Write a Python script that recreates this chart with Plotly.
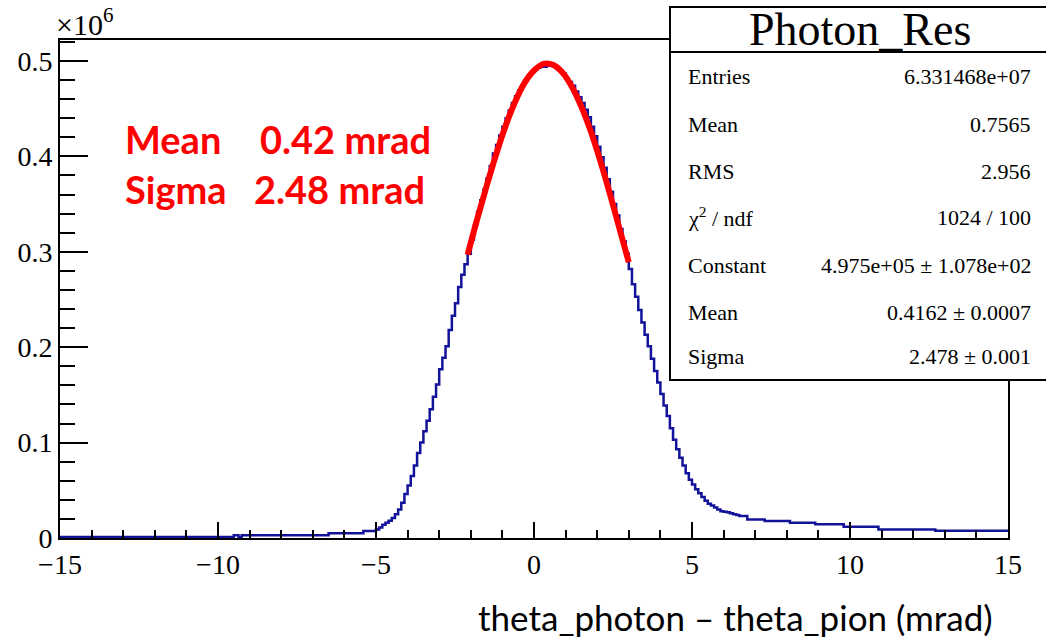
import plotly.graph_objects as go

# ---------------- data (values in units of 1e6 entries) ----------------
left_tail_edges = [-15.0, -9.5, -9.35, -9.25, -6.5, -5.4, -5.0]
left_tail_values = [0.001, 0.003, 0.001, 0.003, 0.005, 0.0073]

core_start = -5.0
core_width = 0.1
core_values = [
    0.009, 0.011, 0.014, 0.016, 0.018, 0.021, 0.025, 0.030, 0.037, 0.046,
    0.055, 0.065, 0.076, 0.089, 0.100, 0.112, 0.123, 0.135, 0.148, 0.161,
    0.177, 0.189, 0.201, 0.218, 0.233, 0.246, 0.263, 0.276, 0.287, 0.298,
    0.313, 0.328, 0.342, 0.354, 0.365, 0.377, 0.390, 0.403, 0.412, 0.422,
    0.431, 0.440, 0.448, 0.456, 0.463, 0.469, 0.474, 0.479, 0.484, 0.488,
    0.491, 0.493, 0.494, 0.494, 0.495, 0.495, 0.494, 0.492, 0.490, 0.487,
    0.482, 0.478, 0.474, 0.468, 0.462, 0.456, 0.449, 0.441, 0.431, 0.421,
    0.410, 0.399, 0.388, 0.376, 0.363, 0.350, 0.338, 0.324, 0.311, 0.298,
    0.282, 0.266, 0.253, 0.239, 0.226, 0.213, 0.201, 0.188, 0.175, 0.163,
    0.151, 0.139, 0.128, 0.115, 0.103, 0.093, 0.084, 0.076, 0.068, 0.061,
    0.056, 0.051, 0.047, 0.043, 0.039, 0.036, 0.034, 0.032, 0.030, 0.028,
    0.0275, 0.027, 0.026, 0.025, 0.024,
]

right_tail_edges = [6.5, 6.75, 7.3, 8.1, 8.9, 9.8, 10.9, 12.7, 15.0]
right_tail_values = [0.023, 0.0195, 0.0178, 0.016, 0.0145, 0.0118, 0.0088, 0.0075]

fit_x = [-2.1, -1.8, -1.5, -1.2, -0.9, -0.6, -0.3, 0.0, 0.3, 0.6,
         0.9, 1.2, 1.5, 1.8, 2.1, 2.4, 2.7, 3.0]
fit_y = [0.297, 0.334, 0.369, 0.402, 0.432, 0.457, 0.477, 0.490, 0.497, 0.496,
         0.488, 0.473, 0.452, 0.426, 0.395, 0.361, 0.325, 0.289]

x_ticks = [-15, -10, -5, 0, 5, 10, 15]
x_ticktext = ["\u221215", "\u221210", "\u22125", "0", "5", "10", "15"]
y_ticks = [0, 0.1, 0.2, 0.3, 0.4, 0.5]
y_ticktext = ["0", "0.1", "0.2", "0.3", "0.4", "0.5"]

stats_title = "Photon_Res"
stats_labels = ["Entries", "Mean", "RMS", "χ<sup>2</sup> / ndf", "Constant", "Mean", "Sigma"]
stats_values = ["6.331468e+07", "0.7565", "2.956", "1024 / 100",
                "4.975e+05 ± 1.078e+02", "0.4162 ± 0.0007", "2.478 ± 0.001"]

fit_labels = ["Mean", "Sigma"]
fit_texts = ["0.42 mrad", "2.48 mrad"]

x_title = "theta_photon – theta_pion (mrad)"

# ---------------- build histogram steps ----------------
edges = list(left_tail_edges[:-1])
values = list(left_tail_values)
for i, v in enumerate(core_values):
    edges.append(round(core_start + i * core_width, 4))
    values.append(v)
edges += right_tail_edges[:-1]
values += right_tail_values
step_x = edges + [right_tail_edges[-1]]
step_y = values + [values[-1]]

# ---------------- layout geometry helpers ----------------
L, R, T, B = 60, 38, 40, 99
W, H = 1046, 637
PW, PH = W - L - R, H - T - B


def px(xp):
    return (xp - L) / PW


def py(yp):
    return (H - B - yp) / PH


fig = go.Figure()
fig.add_trace(go.Scatter(x=step_x, y=step_y, mode="lines",
                         line=dict(color="#12129a", width=2.5, shape="hv"),
                         hoverinfo="skip"))
fig.add_trace(go.Scatter(x=fit_x, y=fit_y, mode="lines",
                         line=dict(color="#ff0000", width=6, shape="spline"),
                         hoverinfo="skip"))

serif = "Liberation Serif, Times New Roman, serif"
tick_font = dict(family=serif, size=28, color="black")
fig.update_layout(
    width=W, height=H,
    margin=dict(l=L, r=R, t=T, b=B),
    plot_bgcolor="white", paper_bgcolor="white",
    font=dict(family=serif, size=24, color="black"),
    showlegend=False,
    xaxis=dict(range=[-15, 15], tickmode="array", tickvals=x_ticks, ticktext=x_ticktext,
               ticks="inside", ticklen=16,
               tickwidth=2, tickcolor="black", showline=True, linewidth=2,
               linecolor="black", mirror=True, showgrid=False, zeroline=False,
               tickfont=tick_font,
               minor=dict(tick0=-15, dtick=1, ticks="inside", ticklen=8,
                          tickwidth=1.5, tickcolor="black", showgrid=False)),
    yaxis=dict(range=[0, 0.522], tickmode="array", tickvals=y_ticks, ticktext=y_ticktext,
               ticks="inside", ticklen=28, tickwidth=2, tickcolor="black",
               showline=True, linewidth=2, linecolor="black", mirror=True,
               showgrid=False, zeroline=False,
               tickfont=tick_font,
               minor=dict(tick0=0, dtick=0.02, ticks="inside", ticklen=15,
                          tickwidth=1.5, tickcolor="black", showgrid=False)),
)

# stats box
box_x0, box_x1 = px(670), px(1052)
box_y0, box_y1 = py(380), py(7)
fig.add_shape(type="rect", xref="paper", yref="paper", x0=box_x0, x1=box_x1,
              y0=box_y0, y1=box_y1, line=dict(color="black", width=2),
              fillcolor="white", layer="above")
fig.add_shape(type="line", xref="paper", yref="paper", x0=box_x0, x1=box_x1,
              y0=py(52), y1=py(52), line=dict(color="black", width=2), layer="above")

annotations = []
annotations.append(dict(xref="paper", yref="paper", x=px(860), y=py(30), text=stats_title,
                        showarrow=False, xanchor="center", yanchor="middle",
                        font=dict(family=serif, size=46, color="black")))
row_y = [76, 124, 171, 217, 265, 312, 357]
for lab, val, ry in zip(stats_labels, stats_values, row_y):
    annotations.append(dict(xref="paper", yref="paper", x=px(686), y=py(ry), text=lab,
                            showarrow=False, xanchor="left", yanchor="middle",
                            font=dict(family=serif, size=22, color="black")))
    annotations.append(dict(xref="paper", yref="paper", x=px(1033), y=py(ry), text=val,
                            showarrow=False, xanchor="right", yanchor="middle",
                            font=dict(family=serif, size=22, color="black")))

# x10^6 multiplier
annotations.append(dict(xref="paper", yref="paper", x=px(54), y=py(22),
                        text="×10<sup>6</sup>", showarrow=False, xanchor="left",
                        yanchor="middle", font=dict(family=serif, size=30, color="black")))

# red fit summary text
red_y = [139, 189]
red_val_x = [258, 252]
for lab, txt, ry, vx in zip(fit_labels, fit_texts, red_y, red_val_x):
    annotations.append(dict(xref="paper", yref="paper", x=px(123), y=py(ry), text=f"<b>{lab}</b>",
                            showarrow=False, xanchor="left", yanchor="middle",
                            font=dict(family="Lato", size=38, color="#ff0000")))
    annotations.append(dict(xref="paper", yref="paper", x=px(vx), y=py(ry), text=f"<b>{txt}</b>",
                            showarrow=False, xanchor="left", yanchor="middle",
                            font=dict(family="Lato", size=38, color="#ff0000")))

# axis title (slide text)
annotations.append(dict(xref="paper", yref="paper", x=px(476), y=py(617), text=x_title,
                        showarrow=False, xanchor="left", yanchor="middle",
                        font=dict(family="Lato", size=35, color="black")))

fig.update_layout(annotations=annotations)
fig.write_html("out.html")
